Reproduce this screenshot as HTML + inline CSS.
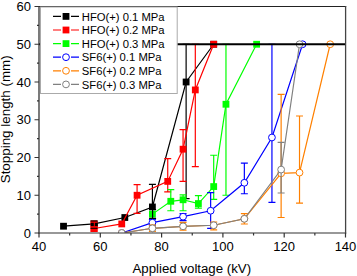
<!DOCTYPE html>
<html><head><meta charset="utf-8"><style>
html,body{margin:0;padding:0;background:#fff;}
body{width:357px;height:276px;overflow:hidden;}
svg{display:block;}
</style></head><body>
<svg width="357" height="276" viewBox="0 0 357 276">
<rect width="357" height="276" fill="#fff"/>
<defs><clipPath id="c"><rect x="39" y="6.5" width="306.5" height="226.5"/></clipPath></defs>
<g clip-path="url(#c)"><path d="M63.52,226.21 L94.17,223.94 L124.82,217.52 L152.41,206.95 L186.12,82.00 L213.70,44.25" fill="none" stroke="#000000" stroke-width="1.2"/><path d="M152.41,206.95V184.30M148.91,184.30h7" fill="none" stroke="#000000" stroke-width="1.2"/><path d="M186.12,198.65V44.25M182.62,198.65h7M182.62,44.25h7" fill="none" stroke="#000000" stroke-width="1.2"/><rect x="60.12" y="222.81" width="6.8" height="6.8" fill="#000000"/><rect x="90.77" y="220.54" width="6.8" height="6.8" fill="#000000"/><rect x="121.42" y="214.12" width="6.8" height="6.8" fill="#000000"/><rect x="149.00" y="203.55" width="6.8" height="6.8" fill="#000000"/><rect x="182.72" y="78.60" width="6.8" height="6.8" fill="#000000"/><rect x="210.30" y="40.85" width="6.8" height="6.8" fill="#000000"/><path d="M94.17,228.47 L121.75,223.94 L137.08,195.25 L167.73,181.40 L183.06,149.19 L195.31,89.93 L213.70,44.25" fill="none" stroke="#ff0000" stroke-width="1.2"/><path d="M137.08,213.37V184.68M133.58,213.37h7M133.58,184.68h7" fill="none" stroke="#ff0000" stroke-width="1.2"/><path d="M167.73,191.85V158.63M164.23,191.85h7M164.23,158.63h7" fill="none" stroke="#ff0000" stroke-width="1.2"/><path d="M183.06,181.28V129.56M179.56,181.28h7M179.56,129.56h7" fill="none" stroke="#ff0000" stroke-width="1.2"/><path d="M195.31,166.56V44.25M191.81,166.56h7M191.81,44.25h7" fill="none" stroke="#ff0000" stroke-width="1.2"/><rect x="90.77" y="225.07" width="6.8" height="6.8" fill="#ff0000"/><rect x="118.35" y="220.54" width="6.8" height="6.8" fill="#ff0000"/><rect x="133.68" y="191.85" width="6.8" height="6.8" fill="#ff0000"/><rect x="164.33" y="178.00" width="6.8" height="6.8" fill="#ff0000"/><rect x="179.66" y="145.79" width="6.8" height="6.8" fill="#ff0000"/><rect x="191.91" y="86.53" width="6.8" height="6.8" fill="#ff0000"/><rect x="210.30" y="40.85" width="6.8" height="6.8" fill="#ff0000"/><path d="M152.41,214.12 L170.79,201.29 L183.06,199.78 L198.38,203.56 L213.70,186.57 L225.97,104.27 L256.62,44.25" fill="none" stroke="#00ff00" stroke-width="1.2"/><path d="M152.41,224.69V214.12M148.91,224.69h7" fill="none" stroke="#00ff00" stroke-width="1.2"/><path d="M170.79,210.73V189.59M167.29,210.73h7M167.29,189.59h7" fill="none" stroke="#00ff00" stroke-width="1.2"/><path d="M183.06,210.73V194.87M179.56,210.73h7M179.56,194.87h7" fill="none" stroke="#00ff00" stroke-width="1.2"/><path d="M198.38,208.09V195.63M194.88,208.09h7M194.88,195.63h7" fill="none" stroke="#00ff00" stroke-width="1.2"/><path d="M213.70,199.40V155.24M210.20,199.40h7M210.20,155.24h7" fill="none" stroke="#00ff00" stroke-width="1.2"/><path d="M225.97,195.25V44.25M222.47,195.25h7M222.47,44.25h7" fill="none" stroke="#00ff00" stroke-width="1.2"/><rect x="149.00" y="210.72" width="6.8" height="6.8" fill="#00ff00"/><rect x="167.39" y="197.89" width="6.8" height="6.8" fill="#00ff00"/><rect x="179.66" y="196.38" width="6.8" height="6.8" fill="#00ff00"/><rect x="194.98" y="200.16" width="6.8" height="6.8" fill="#00ff00"/><rect x="210.30" y="183.17" width="6.8" height="6.8" fill="#00ff00"/><rect x="222.56" y="100.87" width="6.8" height="6.8" fill="#00ff00"/><rect x="253.22" y="40.85" width="6.8" height="6.8" fill="#00ff00"/><path d="M121.75,233.00 L152.41,222.69 L183.06,216.69 L210.64,210.73 L244.35,182.79 L271.94,137.49 L302.59,44.25" fill="none" stroke="#0000ff" stroke-width="1.2"/><path d="M152.41,225.83V219.41M148.91,225.83h7M148.91,219.41h7" fill="none" stroke="#0000ff" stroke-width="1.2"/><path d="M183.06,220.62V213.60M179.56,220.62h7M179.56,213.60h7" fill="none" stroke="#0000ff" stroke-width="1.2"/><path d="M210.64,228.47V192.61M207.14,228.47h7M207.14,192.61h7" fill="none" stroke="#0000ff" stroke-width="1.2"/><path d="M244.35,193.74V163.16M240.85,193.74h7M240.85,163.16h7" fill="none" stroke="#0000ff" stroke-width="1.2"/><path d="M271.94,202.42V44.25M268.44,202.42h7M268.44,44.25h7" fill="none" stroke="#0000ff" stroke-width="1.2"/><circle cx="121.75" cy="233.00" r="3.4" fill="#fff" stroke="#0000ff" stroke-width="1"/><circle cx="152.41" cy="222.69" r="3.4" fill="#fff" stroke="#0000ff" stroke-width="1"/><circle cx="183.06" cy="216.69" r="3.4" fill="#fff" stroke="#0000ff" stroke-width="1"/><circle cx="210.64" cy="210.73" r="3.4" fill="#fff" stroke="#0000ff" stroke-width="1"/><circle cx="244.35" cy="182.79" r="3.4" fill="#fff" stroke="#0000ff" stroke-width="1"/><circle cx="271.94" cy="137.49" r="3.4" fill="#fff" stroke="#0000ff" stroke-width="1"/><circle cx="302.59" cy="44.25" r="3.4" fill="#fff" stroke="#0000ff" stroke-width="1"/><path d="M121.75,233.00 L152.41,228.28 L183.06,226.32 L213.70,225.26 L244.35,218.81 L281.13,173.35 L299.52,172.60 L330.18,44.25" fill="none" stroke="#ff8000" stroke-width="1.2"/><path d="M152.41,231.49V225.07M148.91,231.49h7M148.91,225.07h7" fill="none" stroke="#ff8000" stroke-width="1.2"/><path d="M183.06,230.21V222.43M179.56,230.21h7M179.56,222.43h7" fill="none" stroke="#ff8000" stroke-width="1.2"/><path d="M213.70,229.79V222.05M210.20,229.79h7M210.20,222.05h7" fill="none" stroke="#ff8000" stroke-width="1.2"/><path d="M244.35,224.02V213.60M240.85,224.02h7M240.85,213.60h7" fill="none" stroke="#ff8000" stroke-width="1.2"/><path d="M281.13,217.52V94.46M277.63,217.52h7M277.63,94.46h7" fill="none" stroke="#ff8000" stroke-width="1.2"/><path d="M299.52,203.18V115.98M296.02,203.18h7M296.02,115.98h7" fill="none" stroke="#ff8000" stroke-width="1.2"/><circle cx="121.75" cy="233.00" r="3.4" fill="#fff" stroke="#ff8000" stroke-width="1"/><circle cx="152.41" cy="228.28" r="3.4" fill="#fff" stroke="#ff8000" stroke-width="1"/><circle cx="183.06" cy="226.32" r="3.4" fill="#fff" stroke="#ff8000" stroke-width="1"/><circle cx="213.70" cy="225.26" r="3.4" fill="#fff" stroke="#ff8000" stroke-width="1"/><circle cx="244.35" cy="218.81" r="3.4" fill="#fff" stroke="#ff8000" stroke-width="1"/><circle cx="281.13" cy="173.35" r="3.4" fill="#fff" stroke="#ff8000" stroke-width="1"/><circle cx="299.52" cy="172.60" r="3.4" fill="#fff" stroke="#ff8000" stroke-width="1"/><circle cx="330.18" cy="44.25" r="3.4" fill="#fff" stroke="#ff8000" stroke-width="1"/><path d="M121.75,233.00 L152.41,228.28 L183.06,226.32 L213.70,225.26 L244.35,218.81 L281.13,169.58 L299.52,44.25" fill="none" stroke="#808080" stroke-width="1.2"/><path d="M281.13,192.99V142.40M277.63,192.99h7M277.63,142.40h7" fill="none" stroke="#808080" stroke-width="1.2"/><circle cx="121.75" cy="233.00" r="3.4" fill="#fff" stroke="#808080" stroke-width="1"/><circle cx="152.41" cy="228.28" r="3.4" fill="#fff" stroke="#808080" stroke-width="1"/><circle cx="183.06" cy="226.32" r="3.4" fill="#fff" stroke="#808080" stroke-width="1"/><circle cx="213.70" cy="225.26" r="3.4" fill="#fff" stroke="#808080" stroke-width="1"/><circle cx="244.35" cy="218.81" r="3.4" fill="#fff" stroke="#808080" stroke-width="1"/><circle cx="281.13" cy="169.58" r="3.4" fill="#fff" stroke="#808080" stroke-width="1"/><circle cx="299.52" cy="44.25" r="3.4" fill="#fff" stroke="#808080" stroke-width="1"/><rect x="90.5" y="220.5" width="7" height="11.5" fill="#ff0000"/><rect x="90.8" y="222.8" width="3" height="3.3" fill="#000"/><rect x="94.8" y="222.8" width="3" height="3.3" fill="#000"/><path d="M90.5,221h7M90.5,228.3h7" stroke="#000" stroke-width="1"/><path d="M149.1,209.5h7M149.1,218.3h7M152.6,209.5V218.3" stroke="#000" stroke-width="1.2" fill="none"/></g>
<line x1="39" y1="44.25" x2="345.5" y2="44.25" stroke="#000" stroke-width="2.2"/>
<path d="M38.4,6.5H346.2" stroke="#222" stroke-width="1.2" fill="none"/>
<path d="M38.4,233H346.2" stroke="#333" stroke-width="1.2" fill="none"/>
<path d="M39,6V233.6" stroke="#333" stroke-width="1.3" fill="none"/>
<path d="M345.6,6V233.6" stroke="#444" stroke-width="1.3" fill="none"/>
<path d="M39.00,233v4.5M69.65,233v2.5M100.30,233v4.5M130.95,233v2.5M161.60,233v4.5M192.25,233v2.5M222.90,233v4.5M253.55,233v2.5M284.20,233v4.5M314.85,233v2.5M345.50,233v4.5M39,233.00h-4.5M39,214.12h-2M39,195.25h-4.5M39,176.38h-2M39,157.50h-4.5M39,138.62h-2M39,119.75h-4.5M39,100.88h-2M39,82.00h-4.5M39,63.12h-2M39,44.25h-4.5M39,25.38h-2M39,6.50h-4.5" stroke="#333" stroke-width="1.2" fill="none"/>
<text x="39.00" y="250.8" font-family="Liberation Sans, sans-serif" font-size="13" text-anchor="middle" fill="#000">40</text>
<text x="100.30" y="250.8" font-family="Liberation Sans, sans-serif" font-size="13" text-anchor="middle" fill="#000">60</text>
<text x="161.60" y="250.8" font-family="Liberation Sans, sans-serif" font-size="13" text-anchor="middle" fill="#000">80</text>
<text x="222.90" y="250.8" font-family="Liberation Sans, sans-serif" font-size="13" text-anchor="middle" fill="#000">100</text>
<text x="284.20" y="250.8" font-family="Liberation Sans, sans-serif" font-size="13" text-anchor="middle" fill="#000">120</text>
<text x="345.50" y="250.8" font-family="Liberation Sans, sans-serif" font-size="13" text-anchor="middle" fill="#000">140</text>
<text x="31" y="237.60" font-family="Liberation Sans, sans-serif" font-size="13" text-anchor="end" fill="#000">0</text>
<text x="31" y="199.85" font-family="Liberation Sans, sans-serif" font-size="13" text-anchor="end" fill="#000">10</text>
<text x="31" y="162.10" font-family="Liberation Sans, sans-serif" font-size="13" text-anchor="end" fill="#000">20</text>
<text x="31" y="124.35" font-family="Liberation Sans, sans-serif" font-size="13" text-anchor="end" fill="#000">30</text>
<text x="31" y="86.60" font-family="Liberation Sans, sans-serif" font-size="13" text-anchor="end" fill="#000">40</text>
<text x="31" y="48.85" font-family="Liberation Sans, sans-serif" font-size="13" text-anchor="end" fill="#000">50</text>
<text x="31" y="11.10" font-family="Liberation Sans, sans-serif" font-size="13" text-anchor="end" fill="#000">60</text>
<text x="191.8" y="272.8" font-family="Liberation Sans, sans-serif" font-size="13.25" text-anchor="middle" fill="#000">Applied voltage (kV)</text>
<text transform="translate(10.3,119.3) rotate(-90)" x="0" y="0" font-family="Liberation Sans, sans-serif" font-size="13.4" text-anchor="middle" fill="#000">Stopping length (mm)</text>
<rect x="40.5" y="7" width="136.7" height="86.5" fill="#fff" stroke="#aaa" stroke-width="1"/>
<path d="M53,16.40h8M71,16.40h8" stroke="#000000" stroke-width="1.2"/>
<rect x="62.6" y="13.00" width="6.8" height="6.8" fill="#000000"/>
<text x="81.8" y="20.60" font-family="Liberation Sans, sans-serif" font-size="11.25" fill="#000">HFO(+) 0.1 MPa</text>
<path d="M53,30.00h8M71,30.00h8" stroke="#ff0000" stroke-width="1.2"/>
<rect x="62.6" y="26.60" width="6.8" height="6.8" fill="#ff0000"/>
<text x="81.8" y="34.20" font-family="Liberation Sans, sans-serif" font-size="11.25" fill="#000">HFO(+) 0.2 MPa</text>
<path d="M53,43.60h8M71,43.60h8" stroke="#00ff00" stroke-width="1.2"/>
<rect x="62.6" y="40.20" width="6.8" height="6.8" fill="#00ff00"/>
<text x="81.8" y="47.80" font-family="Liberation Sans, sans-serif" font-size="11.25" fill="#000">HFO(+) 0.3 MPa</text>
<path d="M53,57.20h8M71,57.20h8" stroke="#0000ff" stroke-width="1.2"/>
<circle cx="66" cy="57.20" r="3.4" fill="#fff" stroke="#0000ff" stroke-width="1"/>
<text x="81.8" y="61.40" font-family="Liberation Sans, sans-serif" font-size="11.25" fill="#000">SF6(+) 0.1 MPa</text>
<path d="M53,70.80h8M71,70.80h8" stroke="#ff8000" stroke-width="1.2"/>
<circle cx="66" cy="70.80" r="3.4" fill="#fff" stroke="#ff8000" stroke-width="1"/>
<text x="81.8" y="75.00" font-family="Liberation Sans, sans-serif" font-size="11.25" fill="#000">SF6(+) 0.2 MPa</text>
<path d="M53,84.40h8M71,84.40h8" stroke="#808080" stroke-width="1.2"/>
<circle cx="66" cy="84.40" r="3.4" fill="#fff" stroke="#808080" stroke-width="1"/>
<text x="81.8" y="88.60" font-family="Liberation Sans, sans-serif" font-size="11.25" fill="#000">SF6(+) 0.3 MPa</text>
</svg>
</body></html>
